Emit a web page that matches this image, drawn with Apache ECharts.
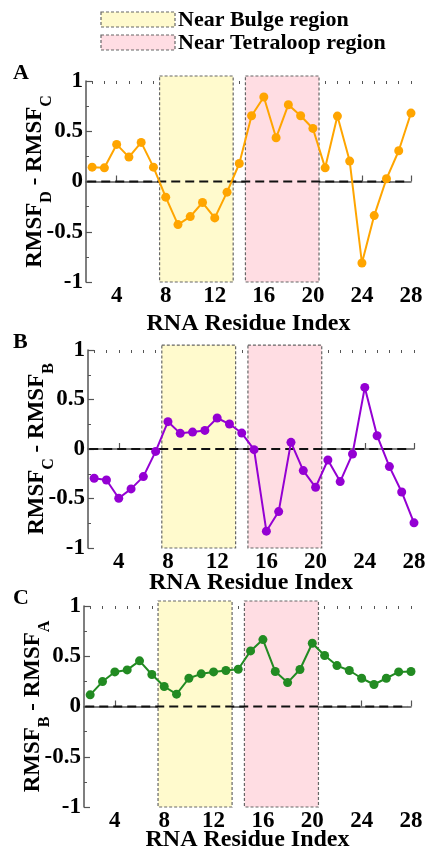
<!DOCTYPE html>
<html>
<head>
<meta charset="utf-8">
<script src="https://cdn.jsdelivr.net/npm/echarts@6/dist/echarts.min.js"></script>
<style>
html,body{margin:0;padding:0;background:#fff;}
#chart{width:426px;height:854px;}
</style>
</head>
<body>
<div id="chart"></div>
<script>
// ---- data ----
const residues = [2,3,4,5,6,7,8,9,10,11,12,13,14,15,16,17,18,19,20,21,22,23,24,25,26,27,28];
const diffDC = [0.143,0.136,0.369,0.243,0.389,0.143,-0.156,-0.429,-0.349,-0.209,-0.362,-0.106,0.179,0.654,0.841,0.435,0.764,0.654,0.528,0.136,0.651,0.203,-0.811,-0.339,0.027,0.306,0.681];
const diffCB = [-0.296,-0.313,-0.497,-0.403,-0.279,-0.024,0.276,0.158,0.171,0.188,0.313,0.252,0.161,-0.007,-0.830,-0.632,0.067,-0.218,-0.387,-0.111,-0.329,-0.050,0.622,0.134,-0.178,-0.434,-0.746];
const diffBA = [0.116,0.248,0.344,0.364,0.454,0.318,0.199,0.123,0.281,0.325,0.344,0.358,0.371,0.553,0.666,0.348,0.238,0.368,0.629,0.507,0.407,0.358,0.281,0.219,0.281,0.344,0.348];
const xTickLabels = [4,8,12,16,20,24,28];
const xMinorTicks = [2,3,4,5,6,7,8,9,10,11,12,13,14,15,16,17,18,19,20,21,22,23,24,25,26,27,28];
const bulgeRegion = [7.5, 13.5];
const tetraloopRegion = [14.5, 20.5];
const regionTop = 1.05;
const zeroLineX = [1.6, 27.7];
const legendLabels = ['Near Bulge region', 'Near Tetraloop region'];
const panelLetters = ['A','B','C'];
const yTitles = [['D','C'],['C','B'],['B','A']];

// ---- styling / layout ----
const FONT = '"Liberation Serif", "Times New Roman", serif';
const yellow = '#FFFACD', pink = '#FFDDE3';
const colors = ['#FFA500', '#9400D3', '#228B22'];
const grids = [
  {left: 86, top: 81, width: 325, height: 201},
  {left: 88, top: 350, width: 326, height: 198},
  {left: 84, top: 606, width: 327, height: 201}
];
const xNameGaps = [30, 23, 21];
const seriesData = [diffDC, diffCB, diffBA];

const option = {
  animation: false,
  backgroundColor: '#fff',
  grid: grids.map(g => Object.assign({outerBoundsMode: 'none', containLabel: false}, g)),
  xAxis: [],
  yAxis: [],
  series: [],
  graphic: []
};

const axisColor = '#555';
grids.forEach((g, i) => {
  // major x axis
  option.xAxis.push({
    type: 'value', gridIndex: i, min: 1.5, max: 28,
    axisLine: {show: true, lineStyle: {color: axisColor, width: 1.5}},
    axisTick: {show: true, inside: true, length: 6, customValues: xTickLabels, lineStyle: {color: axisColor, width: 1.2}},
    axisLabel: {show: true, customValues: xTickLabels, margin: 3, fontFamily: FONT, fontWeight: 'bold', fontSize: 23, color: '#000'},
    splitLine: {show: false},
    name: 'RNA Residue Index', nameLocation: 'middle', nameGap: xNameGaps[i], nameMoveOverlap: false,
    nameTextStyle: {fontFamily: FONT, fontWeight: 'bold', fontSize: 24, color: '#000'}
  });
  // minor x ticks
  option.xAxis.push({
    type: 'value', gridIndex: i, min: 1.5, max: 28,
    axisLine: {show: false},
    axisTick: {show: true, inside: true, length: 3, customValues: xMinorTicks, lineStyle: {color: axisColor, width: 1}},
    axisLabel: {show: false},
    splitLine: {show: false}
  });
  const sub = yTitles[i];
  option.yAxis.push({
    type: 'value', gridIndex: i, min: -1, max: 1, interval: 0.5,
    axisLine: {show: true, lineStyle: {color: axisColor, width: 1.5}},
    axisTick: {show: true, inside: true, length: 6, lineStyle: {color: axisColor, width: 1.2}},
    minorTick: {show: true, splitNumber: 2, length: 3, lineStyle: {color: axisColor, width: 1}},
    axisLabel: {margin: 3, fontFamily: FONT, fontWeight: 'bold', fontSize: 23, color: '#000',
      formatter: v => (v === 0 ? '0' : String(v))},
    splitLine: {show: false},
    name: '{a|RMSF}{s|' + sub[0] + '}{a| - RMSF}{s|' + sub[1] + '}',
    nameLocation: 'middle', nameRotate: 90, nameGap: 39, nameMoveOverlap: false,
    nameTextStyle: {
      fontFamily: FONT, fontWeight: 'bold', fontSize: 23, color: '#000',
      rich: {
        a: {fontFamily: FONT, fontWeight: 'bold', fontSize: 23, color: '#000', lineHeight: 23, verticalAlign: 'top'},
        s: {fontFamily: FONT, fontWeight: 'bold', fontSize: 16, color: '#000', lineHeight: 16, verticalAlign: 'top', padding: [15, 0, 0, 0]}
      }
    }
  });

  // regions
  option.series.push({
    type: 'custom', xAxisIndex: i * 2, yAxisIndex: i, clip: false, z: 1,
    data: [[bulgeRegion[0], bulgeRegion[1], -1, regionTop, 0], [tetraloopRegion[0], tetraloopRegion[1], -1, regionTop, 1]],
    renderItem: (params, api) => {
      const p0 = api.coord([api.value(0), api.value(3)]);
      const p1 = api.coord([api.value(1), api.value(2)]);
      return {
        type: 'rect',
        shape: {x: p0[0], y: p0[1], width: p1[0] - p0[0], height: p1[1] - p0[1]},
        style: {fill: api.value(4) === 0 ? yellow : pink, stroke: '#666', lineWidth: 1.2, lineDash: [3, 2]}
      };
    },
    silent: true
  });
  // zero line
  option.series.push({
    type: 'line', xAxisIndex: i * 2, yAxisIndex: i, z: 2,
    data: zeroLineX.map(x => [x, 0]),
    symbol: 'none',
    lineStyle: {color: '#111', width: 2, type: [9, 5]},
    silent: true
  });
  // data series
  option.series.push({
    type: 'line', xAxisIndex: i * 2, yAxisIndex: i, z: 3,
    data: residues.map((r, k) => [r, seriesData[i][k]]),
    symbol: 'circle', symbolSize: 9,
    itemStyle: {color: colors[i]},
    lineStyle: {color: colors[i], width: 2}
  });

  option.graphic.push({
    type: 'text', left: 13, top: g.top - 19,
    style: {text: panelLetters[i], font: 'bold 22px ' + FONT, fill: '#000'}
  });
});

// legend
[[yellow, 12], [pink, 35]].forEach((d, k) => {
  option.graphic.push({
    type: 'rect', shape: {x: 101, y: d[1], width: 74, height: 15},
    style: {fill: d[0], stroke: '#666', lineWidth: 1.2, lineDash: [3, 2]}
  });
  option.graphic.push({
    type: 'text', x: 178, y: d[1] + 8,
    style: {text: legendLabels[k], font: 'bold 22px ' + FONT, fill: '#000', verticalAlign: 'middle', align: 'left'}
  });
});

const chart = echarts.init(document.getElementById('chart'), null, {renderer: 'canvas'});
chart.setOption(option);
</script>
</body>
</html>
